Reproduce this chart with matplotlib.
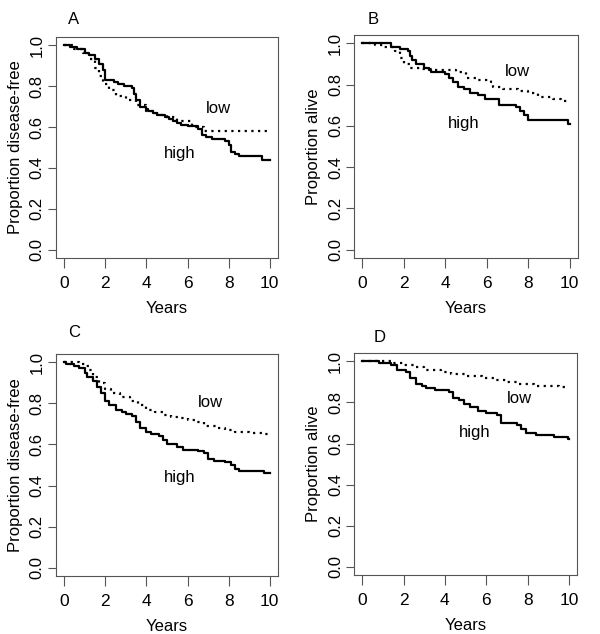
import numpy as np
import matplotlib
matplotlib.use("Agg")
import matplotlib.pyplot as plt

plt.rcParams["font.family"] = ["Liberation Sans", "DejaVu Sans"]

# step curves: times (years) and proportions
a_high_t = [0, 0.3, 0.6, 1.0, 1.2, 1.5, 1.7, 1.9, 2.0, 2.4, 2.6, 2.9, 3.3, 3.4, 3.5, 3.7, 4.0, 4.1, 4.3, 4.5,
            4.9, 5.1, 5.3, 5.5, 5.7, 6.0, 6.5, 6.7, 6.9, 7.2, 7.8, 8.0, 8.1, 8.3, 8.5, 9.6, 10.0]
a_high_s = [1.0, 0.99, 0.98, 0.96, 0.95, 0.93, 0.91, 0.88, 0.83, 0.82, 0.81, 0.80, 0.79, 0.76, 0.73, 0.70, 0.69,
            0.68, 0.67, 0.66, 0.65, 0.64, 0.63, 0.62, 0.61, 0.605, 0.59, 0.56, 0.55, 0.54, 0.53, 0.51, 0.48, 0.47,
            0.46, 0.44, 0.44]
a_low_t = [0, 0.5, 0.9, 1.2, 1.5, 1.7, 1.9, 2.2, 2.5, 3.0, 3.5, 4.0, 4.5, 5.0, 5.5, 6.2, 6.8, 10.0]
a_low_s = [1.0, 0.98, 0.96, 0.93, 0.89, 0.85, 0.81, 0.78, 0.75, 0.73, 0.71, 0.68, 0.66, 0.65, 0.63, 0.60, 0.58, 0.58]

b_high_t = [0, 1.4, 1.8, 2.2, 2.3, 2.4, 2.6, 3.0, 3.2, 3.3, 4.0, 4.2, 4.4, 4.6, 4.9, 5.2, 5.6, 5.9, 6.6, 7.4,
            7.6, 7.8, 8.0, 9.95, 10.0]
b_high_s = [1.0, 0.98, 0.97, 0.96, 0.94, 0.92, 0.90, 0.88, 0.87, 0.86, 0.85, 0.83, 0.81, 0.79, 0.78, 0.76, 0.75,
            0.73, 0.70, 0.69, 0.67, 0.65, 0.63, 0.61, 0.61]
b_low_t = [0, 0.6, 1.0, 1.6, 1.8, 2.0, 2.3, 2.8, 3.5, 4.5, 5.0, 5.5, 6.2, 6.3, 6.8, 7.5, 8.0, 8.5, 9.2, 9.6, 10.0]
b_low_s = [1.0, 0.99, 0.98, 0.96, 0.93, 0.90, 0.88, 0.875, 0.87, 0.86, 0.83, 0.82, 0.81, 0.79, 0.78, 0.77, 0.76,
           0.74, 0.73, 0.72, 0.72]

c_high_t = [0, 0.1, 0.5, 0.7, 1.0, 1.1, 1.4, 1.6, 1.8, 2.0, 2.2, 2.5, 2.8, 3.0, 3.3, 3.5, 3.7, 4.0, 4.2, 4.6,
            4.8, 5.0, 5.5, 5.8, 6.5, 6.8, 7.0, 7.3, 7.8, 8.1, 8.3, 8.5, 9.7, 10.0]
c_high_s = [1.0, 0.99, 0.98, 0.97, 0.95, 0.93, 0.91, 0.88, 0.85, 0.81, 0.79, 0.77, 0.76, 0.75, 0.74, 0.71, 0.68,
            0.66, 0.65, 0.64, 0.62, 0.60, 0.59, 0.575, 0.57, 0.56, 0.53, 0.52, 0.515, 0.50, 0.48, 0.47, 0.46, 0.46]
c_low_t = [0, 0.7, 1.0, 1.2, 1.4, 1.7, 2.0, 2.3, 2.7, 3.2, 3.6, 4.0, 4.4, 4.8, 5.2, 5.6, 6.0, 6.4, 6.8, 7.4,
           7.8, 8.3, 9.0, 9.7, 10.0]
c_low_s = [1.0, 0.99, 0.98, 0.96, 0.93, 0.90, 0.87, 0.85, 0.83, 0.81, 0.79, 0.77, 0.76, 0.745, 0.735, 0.73, 0.72,
           0.71, 0.69, 0.68, 0.67, 0.66, 0.655, 0.65, 0.645]

d_high_t = [0, 0.8, 1.4, 1.7, 2.1, 2.3, 2.6, 2.9, 3.1, 3.5, 4.2, 4.4, 4.7, 4.9, 5.2, 5.6, 6.0, 6.5, 6.7, 7.5,
            7.7, 7.9, 8.4, 9.3, 9.95, 10.0]
d_high_s = [1.0, 0.99, 0.98, 0.96, 0.95, 0.92, 0.89, 0.88, 0.87, 0.86, 0.85, 0.82, 0.81, 0.79, 0.78, 0.76, 0.75,
            0.74, 0.70, 0.69, 0.67, 0.65, 0.64, 0.63, 0.62, 0.62]
d_low_t = [0, 1.2, 1.5, 2.0, 2.5, 3.0, 3.8, 4.3, 5.0, 5.8, 6.4, 7.0, 7.6, 8.3, 9.5, 10.0]
d_low_s = [1.0, 1.0, 0.99, 0.98, 0.97, 0.96, 0.95, 0.94, 0.93, 0.92, 0.91, 0.90, 0.89, 0.88, 0.875, 0.875]

panel_letters = ["A", "B", "C", "D"]
y_labels = ["Proportion disease-free", "Proportion alive", "Proportion disease-free", "Proportion alive"]
low_pos = [(7.5, 0.69), (7.5, 0.865), (7.1, 0.805), (7.6, 0.82)]
high_pos = [(5.6, 0.47), (4.9, 0.61), (5.6, 0.44), (5.45, 0.655)]
x_ticks = [0, 2, 4, 6, 8, 10]
y_ticks = [0.0, 0.2, 0.4, 0.6, 0.8, 1.0]

curves = [(a_high_t, a_high_s, a_low_t, a_low_s),
          (b_high_t, b_high_s, b_low_t, b_low_s),
          (c_high_t, c_high_s, c_low_t, c_low_s),
          (d_high_t, d_high_s, d_low_t, d_low_s)]

# axes boxes in figure fractions [left, bottom, width, height]
boxes = [[0.0933, 0.593, 0.370, 0.3487],
         [0.590, 0.593, 0.373, 0.3519],
         [0.0933, 0.0915, 0.370, 0.3501],
         [0.590, 0.093, 0.372, 0.3501]]
letter_xy = [(74, 19), (373, 19), (74, 333), (380, 337)]

fig = plt.figure(figsize=(6.0, 6.34), dpi=100)
for i in range(4):
    ax = fig.add_axes(boxes[i])
    ht, hs, lt, ls = curves[i]
    ax.step(ht, hs, where="post", color="black", lw=1.6)
    ax.step(lt, ls, where="post", color="black", lw=1.6, linestyle=(0, (1, 2)))
    ax.set_xlim(-0.4, 10.4)
    ax.set_ylim(-0.04, 1.04)
    ax.set_xticks(x_ticks)
    ax.set_yticks(y_ticks)
    ax.set_xticklabels([str(t) for t in x_ticks], fontsize=12.5)
    ax.set_yticklabels(["%.1f" % t for t in y_ticks], fontsize=12, rotation=90, va="center")
    ax.tick_params(axis="x", direction="out", length=7, width=0.8, color="#555555", pad=6)
    ax.tick_params(axis="y", direction="out", length=6, width=0.8, color="#555555", pad=2)
    for sp in ax.spines.values():
        sp.set_color("#555555")
        sp.set_linewidth(0.8)
    ax.set_xlabel("Years", fontsize=12, labelpad=7)
    ax.set_ylabel(y_labels[i], fontsize=12, labelpad=5)
    ax.text(low_pos[i][0], low_pos[i][1], "low", fontsize=12, ha="center", va="center")
    ax.text(high_pos[i][0], high_pos[i][1], "high", fontsize=12, ha="center", va="center")
    fig.text(letter_xy[i][0] / 600, 1 - letter_xy[i][1] / 634, panel_letters[i], fontsize=12,
             ha="center", va="center")

fig.savefig("out.png", dpi=100)
